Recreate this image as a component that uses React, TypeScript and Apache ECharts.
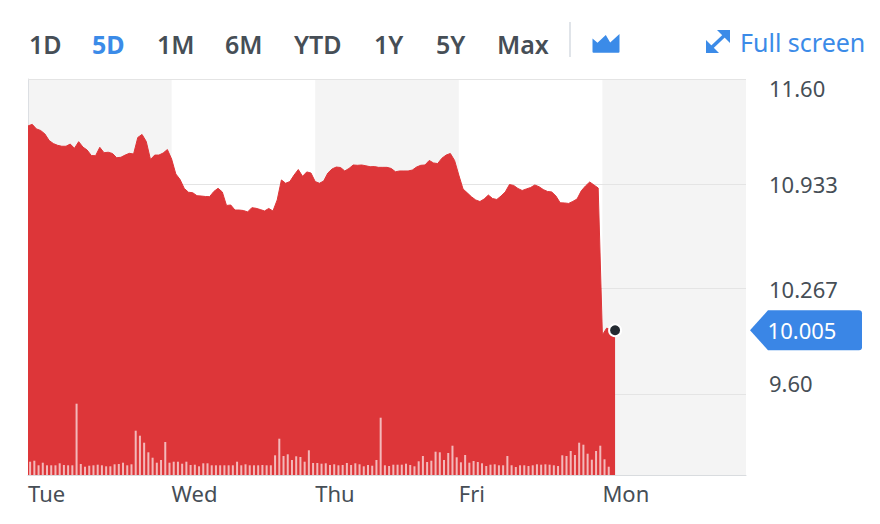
import React, { useEffect, useRef } from "react";
import * as echarts from "echarts";

// ---------- data ----------
const dayLabels = ["Tue", "Wed", "Thu", "Fri", "Mon"];
const pointsPerDay = 34;

const tuePrice = [11.302, 11.312, 11.283, 11.273, 11.251, 11.21, 11.19, 11.179, 11.173, 11.173, 11.187, 11.16, 11.202, 11.168, 11.149, 11.114, 11.113, 11.166, 11.132, 11.135, 11.127, 11.1, 11.103, 11.117, 11.128, 11.124, 11.229, 11.248, 11.203, 11.089, 11.117, 11.117, 11.13, 11.152];
const wedPrice = [11.092, 10.997, 10.962, 10.905, 10.881, 10.878, 10.859, 10.857, 10.854, 10.853, 10.886, 10.906, 10.883, 10.797, 10.8, 10.768, 10.768, 10.765, 10.756, 10.783, 10.779, 10.771, 10.762, 10.778, 10.762, 10.832, 10.959, 10.938, 10.949, 10.99, 11.025, 10.982, 11.01, 11.003];
const thuPrice = [10.949, 10.938, 10.952, 11.003, 11.029, 11.041, 11.038, 11.016, 11.032, 11.054, 11.052, 11.054, 11.049, 11.043, 11.044, 11.039, 11.039, 11.039, 11.032, 11.011, 11.016, 11.016, 11.016, 11.022, 11.041, 11.052, 11.054, 11.083, 11.067, 11.063, 11.097, 11.117, 11.127, 11.083];
const friPrice = [10.99, 10.902, 10.877, 10.852, 10.832, 10.822, 10.838, 10.863, 10.841, 10.835, 10.857, 10.883, 10.93, 10.924, 10.905, 10.892, 10.902, 10.911, 10.927, 10.916, 10.898, 10.886, 10.883, 10.857, 10.814, 10.813, 10.81, 10.823, 10.838, 10.89, 10.921, 10.946, 10.927, 10.908];
const monPrice = [9.975, 10.018, 10.01, 10.005];

const tueVolume = [13.3, 14.3, 9.7, 12.3, 9.7, 9.7, 9.7, 11.7, 10, 9.7, 9.7, 71.3, 11, 8.3, 9.3, 9.7, 10.3, 9.7, 8.7, 8.7, 10.7, 11, 12.3, 9.7, 10.7, 44.3, 39.3, 32.3, 22.7, 17.3, 12.3, 15, 33, 12.3];
const wedVolume = [13.3, 13.3, 11.3, 13.3, 10, 10.3, 8.7, 11.7, 11.7, 9.7, 9.7, 9.7, 9.7, 9.7, 9.7, 13.3, 9.7, 10.7, 9.7, 9.7, 9.7, 10, 9.7, 9.7, 19.7, 36.3, 19, 20.7, 15, 18.7, 18, 13.3, 24.7, 12];
const thuVolume = [12, 11.3, 11.7, 10, 10.7, 9.7, 10, 12, 10, 11.7, 10.7, 8.7, 10, 9.3, 15, 57.3, 9.7, 9, 10.3, 10.3, 10.3, 11.3, 10, 8.7, 13.7, 19, 13, 14.3, 23.3, 22.7, 15, 22, 29.3, 17.7];
const friVolume = [12.7, 20, 12.3, 14, 13, 11.7, 9, 10.3, 10.7, 9.7, 9.7, 19, 9.7, 8, 9.7, 9.7, 9, 9.7, 10.7, 10.3, 10.7, 10.3, 9.7, 9, 19.7, 19, 24, 20, 32.3, 30.3, 21.3, 15.3, 24, 29.3];
const monVolume = [15.7, 8.3];

const priceTicks = [9.6, 10.26667, 10.93333, 11.6];
const priceTickLabels = ["9.60", "10.267", "10.933", "11.60"];
const lastPriceLabel = "10.005";

const rangeButtons = ["1D", "5D", "1M", "6M", "YTD", "1Y", "5Y", "Max"];
const activeRange = "5D";
const fullScreenLabel = "Full screen";

// ---------- styling ----------
const FONT = "'Noto Sans', sans-serif";
const GRAY_TEXT = "#464e56";
const BLUE = "#3b8be8";
const RED = "#dd3639";
const BAND = "#f4f4f4";
const buttonX = [29, 92, 157, 225, 294, 374, 436, 497];

const allPrices = [...tuePrice, ...wedPrice, ...thuPrice, ...friPrice, ...monPrice];
const allVolumes = [...tueVolume, ...wedVolume, ...thuVolume, ...friVolume, ...monVolume];
const priceData = allPrices.map((v, i) => [i, v]);
const volumeData = allVolumes.map((v, i) => [i + 0.5, v]);
const lastIndex = allPrices.length - 1;
const lastPrice = allPrices[lastIndex];
const xMax = dayLabels.length * pointsPerDay;

const bandAreas = dayLabels
  .map((_, d) => d)
  .filter((d) => d % 2 === 0)
  .map((d) => [{ xAxis: d * pointsPerDay }, { xAxis: (d + 1) * pointsPerDay }]);

export default function App() {
  const ref = useRef<HTMLDivElement>(null);

  useEffect(() => {
    if (!ref.current) return;
    echarts.graphic.registerShape(
      "chartIcon",
      echarts.graphic.extendPath(
        "M0,5.7 L5,10 L13.3,2.4 L17.7,9.7 L27,1.2 L27,19 Q27,20 26,20 L1,20 Q0,20 0,19 Z",
        {}
      )
    );
    const chart = echarts.init(ref.current, undefined, { renderer: "svg" });

    const toolbar: any[] = rangeButtons.map((label, i) => ({
      type: "text",
      x: buttonX[i],
      y: 44,
      silent: true,
      style: {
        text: label,
        fontFamily: FONT,
        fontSize: 25,
        fontWeight: label === activeRange ? "bold" : 600,
        fill: label === activeRange ? BLUE : GRAY_TEXT,
        verticalAlign: "middle",
        align: "left",
      },
    }));
    toolbar.push(
      {
        type: "line",
        shape: { x1: 570, y1: 22, x2: 570, y2: 57 },
        style: { stroke: "#e0e4e9", lineWidth: 2 },
      },
      {
        type: "chartIcon",
        x: 592.5,
        y: 32.7,
        style: { fill: BLUE },
      },
      {
        type: "line",
        shape: { x1: 709, y1: 50, x2: 727, y2: 33 },
        style: { stroke: BLUE, lineWidth: 3.5 },
      },
      {
        type: "polygon",
        shape: { points: [[717, 30], [730, 30], [730, 43]] },
        style: { fill: BLUE },
      },
      {
        type: "polygon",
        shape: { points: [[706, 40], [706, 53], [719, 53]] },
        style: { fill: BLUE },
      },
      {
        type: "text",
        x: 740,
        y: 42,
        style: {
          text: fullScreenLabel,
          fontFamily: FONT,
          fontSize: 25,
          fill: BLUE,
          verticalAlign: "middle",
          align: "left",
        },
      }
    );

    const nearestTick = (v: number) => {
      let best = 0;
      priceTicks.forEach((t, i) => {
        if (Math.abs(t - v) < Math.abs(priceTicks[best] - v)) best = i;
      });
      return best;
    };

    const option: any = {
      animation: false,
      backgroundColor: "#ffffff",
      textStyle: { fontFamily: FONT },
      grid: { left: 28, right: 134, top: 79, bottom: 49, containLabel: false },
      graphic: { elements: toolbar },
      xAxis: {
        type: "value",
        min: 0,
        max: xMax,
        interval: pointsPerDay,
        axisLine: { show: true, lineStyle: { color: "#d9dcdf", width: 1 } },
        axisTick: { show: false },
        splitLine: { show: false },
        axisLabel: {
          show: true,
          align: "left",
          margin: 7,
          fontSize: 22,
          color: GRAY_TEXT,
          fontFamily: FONT,
          showMaxLabel: false,
          formatter: (v: number) => dayLabels[Math.round(v / pointsPerDay)] ?? "",
        },
      },
      yAxis: [
        {
          type: "value",
          position: "right",
          min: 9.0857,
          max: 11.6,
          axisLine: { show: true, lineStyle: { color: "#dcdfe3", width: 1 } },
          axisTick: { show: false },
          splitLine: { show: false },
          axisLabel: {
            show: true,
            customValues: priceTicks,
            margin: 23,
            fontSize: 22,
            color: GRAY_TEXT,
            fontFamily: FONT,
            showMinLabel: true,
            showMaxLabel: true,
            hideOverlap: false,
            formatter: (v: number) => {
              const i = nearestTick(v);
              const s = priceTickLabels[i];
              if (i === priceTicks.length - 1) return `{top|${s}}`;
              if (i === 0) return `{bot|${s}}`;
              return s;
            },
            rich: {
              top: { padding: [18, 0, 0, 0], fontSize: 22, color: GRAY_TEXT, fontFamily: FONT },
              bot: { padding: [0, 0, 22, 0], fontSize: 22, color: GRAY_TEXT, fontFamily: FONT },
            },
          },
        },
        {
          type: "value",
          show: false,
          min: 0,
          max: 396,
          splitLine: { show: false },
        },
      ],
      series: [
        {
          name: "bands",
          type: "line",
          data: priceData,
          showSymbol: false,
          silent: true,
          lineStyle: { opacity: 0 },
          z: 0,
          markArea: {
            silent: true,
            z: 0,
            itemStyle: { color: BAND },
            data: bandAreas,
          },
        },
        {
          name: "grid",
          type: "line",
          data: priceData,
          showSymbol: false,
          silent: true,
          lineStyle: { opacity: 0 },
          z: 1,
          markLine: {
            silent: true,
            z: 1,
            symbol: ["none", "none"],
            label: { show: false },
            lineStyle: { color: "#e4e4e4", type: "solid", width: 1 },
            data: priceTicks.map((v) => ({ yAxis: v })),
          },
        },
        {
          name: "price",
          type: "line",
          data: priceData,
          showSymbol: false,
          silent: true,
          z: 2,
          lineStyle: { color: RED, width: 1 },
          areaStyle: { color: RED, opacity: 1, origin: "start" },
        },
        {
          name: "volume",
          type: "bar",
          yAxisIndex: 1,
          data: volumeData,
          barWidth: 2,
          silent: true,
          z: 3,
          itemStyle: { color: "rgba(255,255,255,0.65)" },
        },
        {
          name: "markers",
          type: "line",
          data: priceData,
          showSymbol: false,
          silent: true,
          clip: false,
          lineStyle: { opacity: 0 },
          z: 5,
          markPoint: {
            silent: true,
            z: 6,
            data: [
              {
                coord: [lastIndex, lastPrice],
                symbol: "circle",
                symbolSize: 12,
                itemStyle: { color: "#232a31", borderColor: "#ffffff", borderWidth: 2 },
                label: { show: false },
              },
              {
                coord: [xMax, lastPrice],
                symbol:
                  "path://M0,20 L18,0 L109,0 Q112,0 112,3 L112,37 Q112,40 109,40 L18,40 Z",
                symbolSize: [112, 40],
                symbolOffset: [60, 0],
                itemStyle: { color: "#3a86e6" },
                label: {
                  show: true,
                  position: "inside",
                  offset: [-4, 0],
                  formatter: lastPriceLabel,
                  color: "#ffffff",
                  fontSize: 22,
                  fontFamily: FONT,
                },
              },
            ],
          },
        },
      ],
    };

    chart.setOption(option);
    return () => chart.dispose();
  }, []);

  return (
    <div
      ref={ref}
      style={{ position: "absolute", left: 0, top: 0, width: 880, height: 524 }}
    />
  );
}
